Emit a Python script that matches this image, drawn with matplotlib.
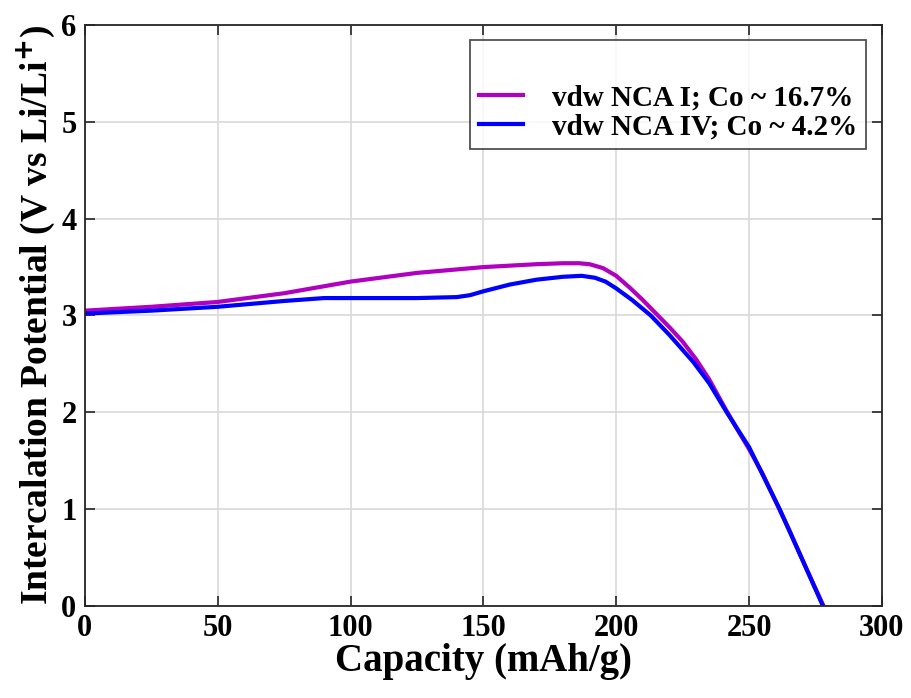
import matplotlib
matplotlib.use("Agg")
import matplotlib.pyplot as plt

# capacity (mAh/g) vs potential (V)
cap_nca1 = [0, 25, 50, 75, 100, 125, 150, 170, 180, 186, 190, 195, 200, 205, 210, 215, 220,
            225, 230, 235, 241, 245, 250, 255, 265, 272, 278]
v_nca1 = [3.05, 3.09, 3.14, 3.23, 3.35, 3.44, 3.50, 3.53, 3.54, 3.54, 3.53, 3.49, 3.41, 3.29,
          3.16, 3.02, 2.88, 2.73, 2.55, 2.34, 2.04, 1.85, 1.62, 1.37, 0.79, 0.36, 0.00]

cap_nca4 = [0, 25, 50, 75, 90, 100, 125, 140, 145, 150, 160, 170, 180, 187, 192, 196, 200, 206,
            213, 220, 229, 235, 241.6, 250, 261.5, 270, 277.8]
v_nca4 = [3.02, 3.05, 3.09, 3.15, 3.18, 3.18, 3.18, 3.19, 3.21, 3.25, 3.32, 3.37, 3.40, 3.41,
          3.39, 3.35, 3.28, 3.16, 3.00, 2.80, 2.52, 2.30, 2.00, 1.64, 1.00, 0.48, 0.00]

labels = ["vdw NCA I; Co ~ 16.7%", "vdw NCA IV; Co ~ 4.2%"]
colors = ["#b000c0", "#0000ff"]

plt.rcParams["font.family"] = ["Liberation Serif", "DejaVu Serif"]
plt.rcParams["font.weight"] = "bold"

fig, ax = plt.subplots(figsize=(9.12, 6.98), dpi=100)
fig.subplots_adjust(left=0.093, right=0.967, top=0.964, bottom=0.132)

ax.plot(cap_nca1, v_nca1, color=colors[0], lw=3, label=labels[0])
ax.plot(cap_nca4, v_nca4, color=colors[1], lw=3, label=labels[1])

ax.set_xlim(0, 300)
ax.set_ylim(0, 6)
ax.set_xticks([0, 50, 100, 150, 200, 250, 300])
ax.set_yticks([0, 1, 2, 3, 4, 5, 6])
ax.grid(True, color="#d9d9d9", lw=1.2)
ax.set_axisbelow(True)
ax.tick_params(direction="in", top=True, right=True, length=7, width=1.2,
               labelsize=22, pad=6, colors="#262626")
for lab in ax.get_xticklabels() + ax.get_yticklabels():
    lab.set_fontweight("bold")
    lab.set_color("black")
for sp in ax.spines.values():
    sp.set_linewidth(1.3)
    sp.set_color("#262626")

ax.set_xlabel("Capacity (mAh/g)", fontsize=28, fontweight="bold", labelpad=0)
ax.set_ylabel("Intercalation Potential (V vs Li/Li$^{\\mathbf{+}}$)", fontsize=27,
              fontweight="bold", labelpad=2)

leg = ax.legend(loc="upper right", fontsize=21, frameon=True, fancybox=False,
                edgecolor="#262626", handlelength=1.5, handletextpad=1.0,
                borderpad=0.3, labelspacing=0.08, title=" ",
                title_fontsize=25, bbox_to_anchor=(0.98, 0.974), borderaxespad=0)
leg.get_frame().set_linewidth(1.3)
for t in leg.get_texts():
    t.set_fontweight("bold")

fig.savefig("out.png", dpi=100)
